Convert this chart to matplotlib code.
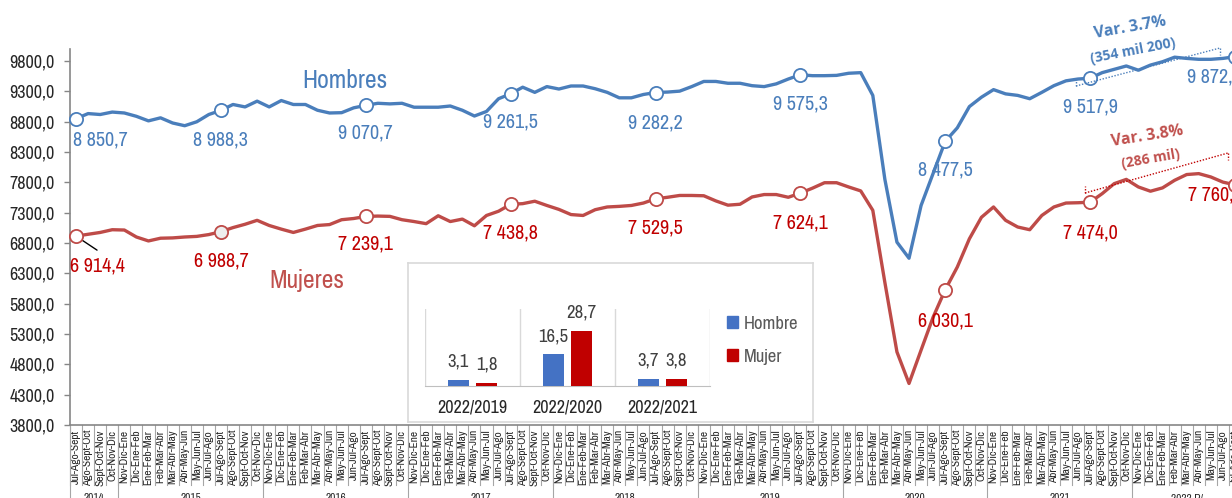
import numpy as np
import matplotlib
matplotlib.use("Agg")
import matplotlib.pyplot as plt
from matplotlib.patches import Patch

# ---- data ----
trimestres = ["Nov-Dic-Ene", "Dic-Ene-Feb", "Ene-Feb-Mar", "Feb-Mar-Abr", "Mar-Abr-May",
              "Abr-May-Jun", "May-Jun-Jul", "Jun-Jul-Ago", "Jul-Ago-Sept", "Ago-Sept-Oct",
              "Sept-Oct-Nov", "Oct-Nov-Dic"]
years = ["2014", "2015", "2016", "2017", "2018", "2019", "2020", "2021", "2022 P/"]
year_counts = [4, 12, 12, 12, 12, 12, 12, 12, 9]

hombres = [
    8850.7, 8935, 8920, 8960, 8945, 8890, 8815, 8865, 8780, 8735, 8800, 8920,
    8988.3, 9085, 9045, 9140, 9045, 9150, 9085, 9085, 8990, 8945, 8950, 9030,
    9070.7, 9105, 9095, 9105, 9040, 9040, 9040, 9060, 8990, 8895, 8970, 9180,
    9261.5, 9370, 9285, 9380, 9340, 9390, 9390, 9345, 9285, 9195, 9195, 9250,
    9282.2, 9290, 9305, 9380, 9465, 9465, 9435, 9435, 9395, 9380, 9425, 9505,
    9575.3, 9560, 9560, 9565, 9600, 9610, 9235, 7850, 6815, 6550, 7420, 7950,
    8477.5, 8700, 9050, 9205, 9330, 9260, 9235, 9180, 9285, 9395, 9475, 9505,
    9517.9, 9610, 9665, 9720, 9650, 9735, 9790, 9865, 9845, 9830, 9830, 9845,
    9872.3,
]
mujeres = [
    6914.4, 6945, 6975, 7020, 7015, 6900, 6835, 6880, 6885, 6900, 6910, 6940,
    6988.7, 7055, 7110, 7175, 7090, 7030, 6975, 7030, 7090, 7105, 7185, 7205,
    7239.1, 7245, 7240, 7185, 7155, 7120, 7250, 7155, 7195, 7085, 7255, 7325,
    7438.8, 7450, 7490, 7420, 7355, 7270, 7255, 7350, 7395, 7405, 7420, 7460,
    7529.5, 7555, 7585, 7585, 7580, 7495, 7425, 7440, 7560, 7600, 7600, 7555,
    7624.1, 7705, 7795, 7795, 7725, 7660, 7340, 6150, 5005, 4485, 5035, 5580,
    6030.1, 6405, 6870, 7225, 7395, 7175, 7065, 7020, 7255, 7395, 7460, 7465,
    7474.0, 7615, 7780, 7850, 7725, 7655, 7710, 7835, 7930, 7945, 7890, 7805,
    7760.4,
]
marked = [0, 12, 24, 36, 48, 60, 72, 84, 96]

inset_cats = ["2022/2019", "2022/2020", "2022/2021"]
hombre_var = [3.1, 16.5, 3.7]
mujer_var = [1.8, 28.7, 3.8]

# ---- style ----
NARROW = ["Liberation Sans Narrow", "Arial Narrow", "Archivo Narrow", "Liberation Sans"]
BOLD = ["Open Sans", "DejaVu Sans"]
BLUE = "#4a7ebb"
RED_LINE = "#be4b48"
RED_TXT = "#c00000"
GRAY = "#868686"

W, H = 1232, 498


def px_box(l, t, r, b):
    return [l / W, 1 - b / H, (r - l) / W, (b - t) / H]


def fmt_num(v):
    return f"{v:,.1f}".replace(",", " ").replace(".", ",")


# category labels: 2014 starts at Jul-Ago-Sept
cat_labels = trimestres[8:] + trimestres * 7 + trimestres[:9]
x = np.arange(len(hombres))

fig = plt.figure(figsize=(W / 100, H / 100), dpi=100)
ax = fig.add_axes(px_box(70, 49, 1241, 425))

ax.plot(x, hombres, color=BLUE, lw=2.4, solid_joinstyle="round", zorder=3)
ax.plot(x, mujeres, color=RED_LINE, lw=2.4, solid_joinstyle="round", zorder=3)
h_arr = np.array(hombres)
ax.plot(x[marked], h_arr[marked], "o", ms=9.5, mfc="white", mec=BLUE, mew=1.3, zorder=4, clip_on=False)
m_face = ["white"] * len(marked)
m_face[1] = "#eeeeee"
for k, i in enumerate(marked):
    ax.plot(i, mujeres[i], "o", ms=9.5, mfc=m_face[k], mec=RED_LINE, mew=1.3, zorder=4, clip_on=False)

# point labels (offsets in px)
h_off = [(24, -21), (0, -30), (0, -28), (0, -28), (0, -30), (0, -29), (0, -29), (0, -29), (-21, -20)]
m_off = [(21, -30), (0, -29), (0, -28), (0, -29), (0, -29), (0, -30), (0, -31), (0, -31), (-20, -10)]
for k, i in enumerate(marked):
    dx, dy = h_off[k]
    ax.annotate(fmt_num(hombres[i]), (i, hombres[i]), xytext=(dx * 0.72, dy * 0.72),
                textcoords="offset points", ha="center", va="center", color=BLUE,
                fontsize=14.5, family=NARROW, annotation_clip=False, zorder=5)
    dx, dy = m_off[k]
    ax.annotate(fmt_num(mujeres[i]), (i, mujeres[i]), xytext=(dx * 0.72, dy * 0.72),
                textcoords="offset points", ha="center", va="center", color=RED_TXT,
                fontsize=14.5, family=NARROW, annotation_clip=False, zorder=5)
# leader line for first Mujeres label
ax.annotate("", (0, mujeres[0]), xytext=(21 * 0.72, -14 * 0.72), textcoords="offset points",
            arrowprops=dict(arrowstyle="-", color="black", lw=1.0, shrinkA=0, shrinkB=0),
            annotation_clip=False)

fig.text(345 / W, 1 - 80 / H, "Hombres", color=BLUE, fontsize=18.5, family=NARROW, ha="center", va="center")
fig.text(307 / W, 1 - 280 / H, "Mujeres", color="#c0504d", fontsize=18.5, family=NARROW, ha="center", va="center")

# axes styling
ax.set_xlim(-0.5, len(x) - 0.5)
ax.set_ylim(3800, 10000)
yt = np.arange(3800, 9801, 500)
ax.set_yticks(yt)
ax.set_yticklabels([f"{v:.1f}".replace(".", ",") for v in yt], fontsize=13, family=NARROW, color="#262626")
ax.tick_params(axis="y", direction="out", length=4, width=1, color=GRAY, pad=7)
ax.set_xticks(x)
ax.set_xticklabels(cat_labels, rotation=90, fontsize=8.2, family=NARROW, color="#262626")
ax.tick_params(axis="x", length=0, pad=3.5)
for s in ["top", "right"]:
    ax.spines[s].set_visible(False)
for s in ["left", "bottom"]:
    ax.spines[s].set_color(GRAY)
    ax.spines[s].set_linewidth(1.2)

# category dividers and year groups
xt = ax.get_xaxis_transform()
edges = np.concatenate([[0], np.cumsum(year_counts)]) - 0.5
for i in range(len(x) + 1):
    ax.plot([i - 0.5, i - 0.5], [0, -60 / 376], transform=xt, color="#a6a6a6", lw=0.8, clip_on=False)
for e in edges:
    ax.plot([e, e], [0, -90 / 376], transform=xt, color="#a6a6a6", lw=0.8, clip_on=False)
for k, yname in enumerate(years):
    ax.text((edges[k] + edges[k + 1]) / 2, -73 / 376, yname, transform=xt, ha="center", va="center",
            fontsize=8.2, family=NARROW, color="#262626")

# Var annotations
fig.text(1130 / W, 1 - 28 / H, "Var. 3.7%", color=BLUE, fontsize=11.5, family=BOLD, weight="bold",
         rotation=10, ha="center", va="center")
fig.text(1133 / W, 1 - 51 / H, "(354 mil 200)", color=BLUE, fontsize=10, family=BOLD, weight="bold",
         rotation=11, ha="center", va="center")
fig.text(1147 / W, 1 - 136 / H, "Var. 3.8%", color="#c0504d", fontsize=11.5, family=BOLD, weight="bold",
         rotation=9, ha="center", va="center")
fig.text(1151 / W, 1 - 159 / H, "(286 mil)", color="#c0504d", fontsize=10, family=BOLD, weight="bold",
         rotation=10, ha="center", va="center")
ft = fig.transFigure
for (x0, y0, x1, y1, c) in [(1076, 86, 1220, 48, BLUE), (1085, 193, 1228, 153, RED_TXT)]:
    fig.add_artist(plt.Line2D([x0 / W, x1 / W], [1 - y0 / H, 1 - y1 / H], color=c, lw=1.0, ls=(0, (1, 1.2)), transform=ft))
    fig.add_artist(plt.Line2D([x0 / W, x0 / W], [1 - y0 / H, 1 - (y0 - 7) / H], color=c, lw=1.0, ls=(0, (1, 1.2)), transform=ft))
    fig.add_artist(plt.Line2D([x1 / W, x1 / W], [1 - y1 / H, 1 - (y1 + 7) / H], color=c, lw=1.0, ls=(0, (1, 1.2)), transform=ft))

# ---- inset ----
box = fig.add_axes(px_box(408, 263, 813, 422), zorder=6)
box.set_xticks([])
box.set_yticks([])
for s in box.spines.values():
    s.set_color("#d9d9d9")
    s.set_linewidth(1.2)

bx = fig.add_axes(px_box(425, 309, 710, 386), zorder=7)
bx.patch.set_alpha(0)
ix = np.arange(len(inset_cats))
bw = 0.22
off = 14 / 95
bx.bar(ix - off, hombre_var, bw, color="#4472c4", zorder=3)
bx.bar(ix + off, mujer_var, bw, color=RED_TXT, zorder=3)
for i in ix:
    bx.annotate(f"{hombre_var[i]:.1f}".replace(".", ","), (i - off, hombre_var[i]), xytext=(0, 13),
                textcoords="offset points", ha="center", va="center", fontsize=13.5, family=NARROW, color="#404040")
    bx.annotate(f"{mujer_var[i]:.1f}".replace(".", ","), (i + off, mujer_var[i]), xytext=(0, 13),
                textcoords="offset points", ha="center", va="center", fontsize=13.5, family=NARROW, color="#404040")
bx.set_xlim(-0.5, len(inset_cats) - 0.5)
bx.set_ylim(0, 40)
for e in np.arange(len(inset_cats) + 1) - 0.5:
    bx.axvline(e, color="#d9d9d9", lw=1.0, zorder=1)
bx.set_yticks([])
bx.set_xticks(ix)
bx.set_xticklabels(inset_cats, fontsize=13, family=NARROW, color="#262626")
bx.tick_params(axis="x", length=0, pad=10)
for s in ["top", "right", "left"]:
    bx.spines[s].set_visible(False)
bx.spines["bottom"].set_color("#bfbfbf")

handles = [Patch(color="#4472c4"), Patch(color=RED_TXT)]
leg = fig.legend(handles, ["Hombre", "Mujer"], loc="upper left", bbox_to_anchor=(727 / W, 1 - 316 / H),
                 frameon=False, handlelength=0.6, handleheight=0.6, handletextpad=0.3,
                 labelspacing=0.9, borderpad=0, borderaxespad=0, prop={"family": NARROW, "size": 13.5})
for t in leg.get_texts():
    t.set_color("#595959")
leg.set_zorder(8)

fig.savefig("out.png", dpi=100)
